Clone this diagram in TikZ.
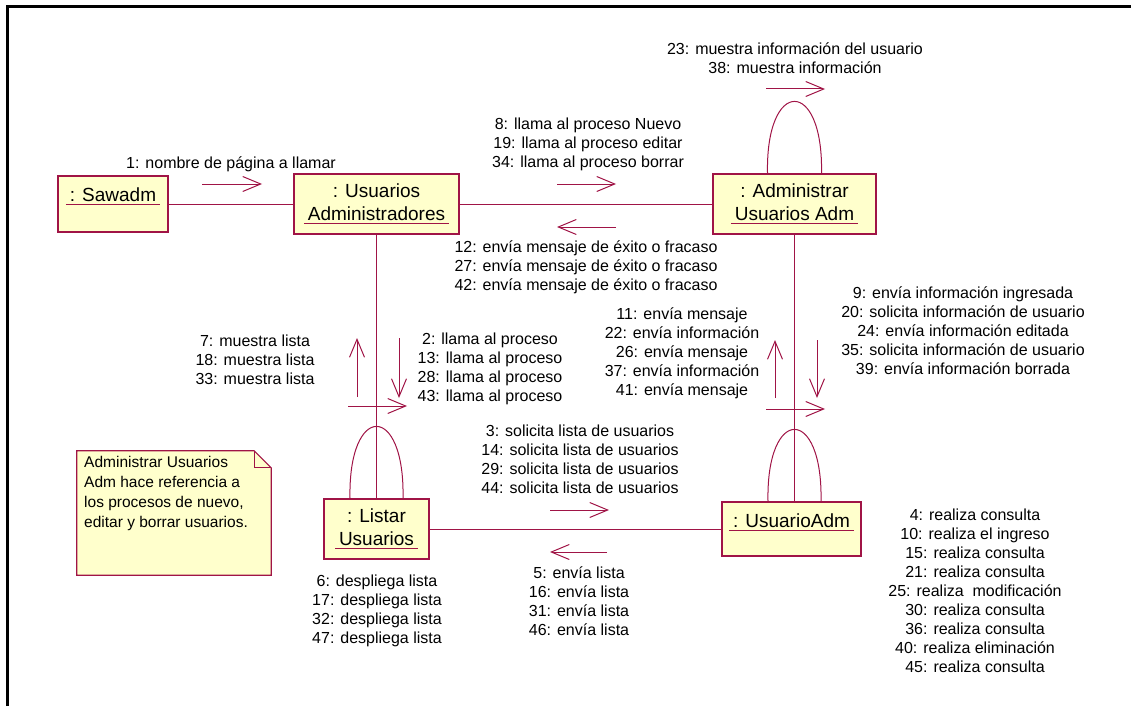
\documentclass[tikz,border=0pt]{standalone}
\usepackage{fontspec}
\setmainfont{Liberation Sans}
\usetikzlibrary{arrows.meta,positioning}

\definecolor{rosered}{RGB}{160,20,70}
\definecolor{roseyellow}{RGB}{255,255,204}

% object names are underlined in the link colour
\newlength\ulwidth
\newcommand\objul[1]{\settowidth\ulwidth{#1}%
  \makebox[0pt][l]{\hspace*{-4pt}\textcolor{rosered}{\rule[-3.5pt]{\dimexpr\ulwidth+8pt\relax}{1pt}}}#1}

\begin{document}
\begin{tikzpicture}[
  x=1pt,y=-1pt,
  obj/.style={draw=rosered,fill=roseyellow,line width=1.2pt,inner sep=0pt,align=center,font=\fontsize{19}{23}\selectfont},
  link/.style={rosered,line width=1pt},
  msg/.style={rosered,line width=1pt,-{Straight Barb[length=18pt,width=15pt,line width=1pt]}},
  lbl/.style={align=center,inner sep=0pt,font=\fontsize{16}{19}\selectfont}
]
  \useasboundingbox (0,0) rectangle (1131,706);
  \draw[line width=3pt] (7,706) -- (7,7) -- (1131,7);

  % objects
  \node[obj,minimum width=110pt,minimum height=56pt,text height=25pt,text depth=31pt] (saw) at (113,204) {\objul{: Sawadm}};
  \node[obj,minimum width=165pt,minimum height=60pt] (ua) at (376.5,204) {: Usuarios\\\objul{Administradores}};
  \node[obj,minimum width=163pt,minimum height=60pt] (adm) at (794.5,204) {: Administrar\\\objul{Usuarios Adm}};
  \node[obj,minimum width=105pt,minimum height=60pt] (lst) at (376.5,529) {: Listar\\\objul{Usuarios}};
  \node[obj,minimum width=139pt,minimum height=54pt,text height=25pt,text depth=29pt] (usr) at (791.5,529) {\objul{: UsuarioAdm}};

  % links
  \draw[link] (saw) -- (ua);
  \draw[link] (ua) -- (adm);
  \draw[link] (ua) -- (lst);
  \draw[link] (lst) -- (usr);
  \coordinate (usrtop) at (adm.south |- usr.north);
  \draw[link] (adm) -- (usrtop);

  % self links
  \draw[link] ([xshift=-27pt]adm.north) .. controls +(-2,-96) and +(2,-96) .. ([xshift=27pt]adm.north);
  \draw[link] ([xshift=-26.5pt]lst.north) .. controls +(-2,-96) and +(2,-96) .. ([xshift=26.5pt]lst.north);
  \draw[link] ([xshift=-26.5pt]usrtop) .. controls +(-2,-96) and +(2,-96) .. ([xshift=26.5pt]usrtop);

  % message arrows
  \coordinate (m1s) at (202,184);  \coordinate (m1e) at (262,184);
  \coordinate (m8s) at (557,184);  \coordinate (m8e) at (616,184);
  \coordinate (m12s) at (616,227); \coordinate (m12e) at (557,227);
  \coordinate (m23s) at (766,89);  \coordinate (m23e) at (825,89);
  \coordinate (m2s) at (399,338);  \coordinate (m2e) at (399,398);
  \coordinate (m7s) at (357,397);  \coordinate (m7e) at (357,338);
  \coordinate (m6s) at (348,406);  \coordinate (m6e) at (407,406);
  \coordinate (m11s) at (775,398); \coordinate (m11e) at (775,340);
  \coordinate (m9s) at (817,340);  \coordinate (m9e) at (817,398);
  \coordinate (m4s) at (766,409);  \coordinate (m4e) at (825,409);
  \coordinate (m3s) at (550,510);  \coordinate (m3e) at (609,510);
  \coordinate (m5s) at (607,552);  \coordinate (m5e) at (550,552);
  \draw[msg] (m1s) -- (m1e);
  \draw[msg] (m8s) -- (m8e);
  \draw[msg] (m12s) -- (m12e);
  \draw[msg] (m23s) -- (m23e);
  \draw[msg] (m2s) -- (m2e);
  \draw[msg] (m7s) -- (m7e);
  \draw[msg] (m6s) -- (m6e);
  \draw[msg] (m11s) -- (m11e);
  \draw[msg] (m9s) -- (m9e);
  \draw[msg] (m4s) -- (m4e);
  \draw[msg] (m3s) -- (m3e);
  \draw[msg] (m5s) -- (m5e);

  % message labels
  \node[lbl] (l1) at (231,164) {1: nombre de página a llamar};
  \node[lbl] (l8) at (588,144) {8: llama al proceso Nuevo\\19: llama al proceso editar\\34: llama al proceso borrar};
  \node[lbl] (l12) at (586,267) {12: envía mensaje de éxito o fracaso\\27: envía mensaje de éxito o fracaso\\42: envía mensaje de éxito o fracaso};
  \node[lbl] (l23) at (795,58.5) {23: muestra información del usuario\\38: muestra información};
  \node[lbl] (l2) at (490,369) {2: llama al proceso\\13: llama al proceso\\28: llama al proceso\\43: llama al proceso};
  \node[lbl] (l7) at (255,360) {7: muestra lista\\18: muestra lista\\33: muestra lista};
  \node[lbl] (l11) at (682,353) {11: envía mensaje\\22: envía información\\26: envía mensaje\\37: envía información\\41: envía mensaje};
  \node[lbl] (l9) at (963,331) {9: envía información ingresada\\20: solicita información de usuario\\24: envía información editada\\35: solicita información de usuario\\39: envía información borrada};
  \node[lbl] (l4) at (975,590.5) {4: realiza consulta\\10: realiza el ingreso\\15: realiza consulta\\21: realiza consulta\\25: realiza\ \ modificación\\30: realiza consulta\\36: realiza consulta\\40: realiza eliminación\\45: realiza consulta};
  \node[lbl] (l3) at (580,459.5) {3: solicita lista de usuarios\\14: solicita lista de usuarios\\29: solicita lista de usuarios\\44: solicita lista de usuarios};
  \node[lbl] (l5) at (579,601.5) {5: envía lista\\16: envía lista\\31: envía lista\\46: envía lista};
  \node[lbl] (l6) at (377,611) {6: despliega lista\\17: despliega lista\\32: despliega lista\\47: despliega lista};

  % note with folded corner
  \node[minimum width=194pt,minimum height=124pt,inner sep=0pt] (note) at (174,513) {};
  \filldraw[draw=rosered,fill=roseyellow,line width=1.2pt] (note.north west) -- ([xshift=-17pt]note.north east)
    -- ([yshift=-17pt]note.north east) -- (note.south east) -- (note.south west) -- cycle;
  \draw[rosered,line width=1pt] ([xshift=-17pt]note.north east) |- ([yshift=-17pt]note.north east);
  \node[anchor=north west,inner sep=0pt,align=left,font=\fontsize{15.5}{20}\selectfont] (notetext) at (84,456)
    {Administrar Usuarios\\Adm hace referencia a\\los procesos de nuevo,\\editar y borrar usuarios.};
\end{tikzpicture}
\end{document}
